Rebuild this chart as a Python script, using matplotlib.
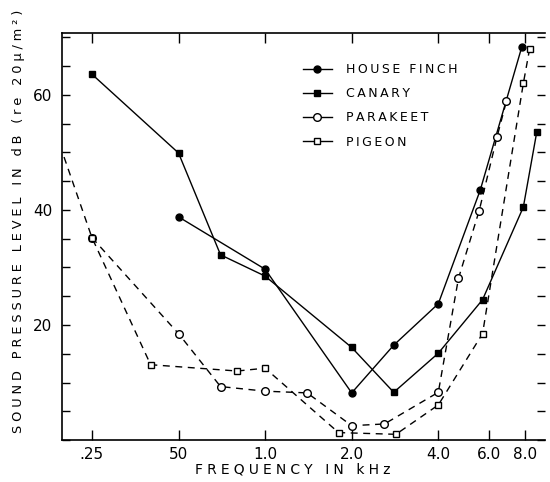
import matplotlib.pyplot as plt
from matplotlib.lines import Line2D

# ------------------------------------------
# Data
# frequency in kHz, threshold in dB re 20 uN/m^2
# ------------------------------------------

finch_khz = [0.5, 1.0, 2.0, 2.8, 4.0, 5.6, 7.8]
finch_db = [38.8, 29.7, 8.2, 16.5, 23.7, 43.5, 68.3]

canary_khz = [0.25, 0.5, 0.7, 1.0, 2.0, 2.8, 4.0, 5.7, 7.9, 8.8]
canary_db = [63.6, 49.9, 32.2, 28.5, 16.1, 8.3, 15.1, 24.4, 40.5, 53.6]

parakeet_khz = [0.25, 0.5, 0.7, 1.0, 1.4, 2.0, 2.6, 4.0, 4.7, 5.55, 6.4, 6.9]
parakeet_db = [35.2, 18.5, 9.3, 8.5, 8.2, 2.5, 2.8, 8.3, 28.1, 39.9, 52.7, 58.9]

pigeon_khz = [0.2, 0.25, 0.4, 0.8, 1.0, 1.8, 2.85, 4.0, 5.7, 7.9, 8.3]
pigeon_db = [49.2, 35.2, 13.1, 12.0, 12.5, 1.3, 1.0, 6.1, 18.5, 62.0, 67.9]

legend_names = ["HOUSE FINCH", "CANARY", "PARAKEET", "PIGEON"]

x_ticks = [0.25, 0.5, 1.0, 2.0, 4.0, 6.0, 8.0]
x_labels = [".25", "50", "1.0", "2.0", "4.0", "6.0", "8.0"]
y_ticks = [0, 5, 10, 15, 20, 25, 30, 35, 40, 45, 50, 55, 60, 65, 70]
y_labels = ["", "", "", "", "20", "", "", "", "40", "", "", "", "60", "", ""]


def spaced(text, gap="\u2009"):
    # old lettering has wide tracking
    return gap.join(text)


# ------------------------------------------
# Plot
# ------------------------------------------

fig = plt.figure(figsize=(5.5, 4.82), dpi=100)
ax = fig.add_axes([0.113, 0.087, 0.878, 0.845])

lw = 1.0
dash = (0, (5, 4))

ax.plot(finch_khz, finch_db, color="black", lw=lw, marker="o",
        markersize=5, markerfacecolor="black", markeredgecolor="black")
ax.plot(canary_khz, canary_db, color="black", lw=lw, marker="s",
        markersize=5, markerfacecolor="black", markeredgecolor="black")
ax.plot(parakeet_khz, parakeet_db, color="black", lw=lw, linestyle=dash,
        marker="o", markersize=5.5, markerfacecolor="white",
        markeredgecolor="black", markeredgewidth=1)
ax.plot(pigeon_khz, pigeon_db, color="black", lw=lw, linestyle=dash,
        marker="s", markersize=5, markerfacecolor="white",
        markeredgecolor="black", markeredgewidth=1,
        markevery=list(range(1, len(pigeon_khz))))

ax.set_xscale("log")
ax.set_xlim(0.197, 9.4)
ax.set_ylim(0, 70.8)

ax.set_xticks(x_ticks)
ax.set_xticklabels(x_labels)
ax.xaxis.set_minor_locator(plt.NullLocator())
ax.set_yticks(y_ticks)
ax.set_yticklabels(y_labels)

ax.tick_params(axis="x", which="both", direction="in", top=True,
               length=7, width=1, labelsize=11, pad=5)
ax.tick_params(axis="y", direction="in", right=True, length=6,
               width=1, labelsize=11, pad=7)

ax.spines["right"].set_visible(False)
for side in ["left", "bottom", "top"]:
    ax.spines[side].set_linewidth(1.2)

wide = "\u2009\u200a"
ax.set_xlabel(spaced("FREQUENCY IN kHz", wide), fontsize=10)
ax.xaxis.set_label_coords(0.478, -0.056)
ax.set_ylabel(spaced("SOUND PRESSURE LEVEL IN dB (re 20\u03bc/m\u00b2)", wide),
              fontsize=9.3)
ax.yaxis.set_label_coords(-0.077, 0.536)

handles = [
    Line2D([], [], color="black", lw=lw, marker="o", markersize=5,
           markerfacecolor="black"),
    Line2D([], [], color="black", lw=lw, marker="s", markersize=5,
           markerfacecolor="black"),
    Line2D([], [], color="black", lw=lw, marker="o", markersize=5.5,
           markerfacecolor="white"),
    Line2D([], [], color="black", lw=lw, marker="s", markersize=5,
           markerfacecolor="white"),
]
ax.legend(handles, [spaced(n) for n in legend_names],
          loc="upper left", bbox_to_anchor=(0.499, 0.926),
          frameon=False, fontsize=9, handlelength=2.3,
          handletextpad=1.1, labelspacing=0.9,
          borderpad=0, borderaxespad=0)

plt.savefig("out.png", dpi=100)
